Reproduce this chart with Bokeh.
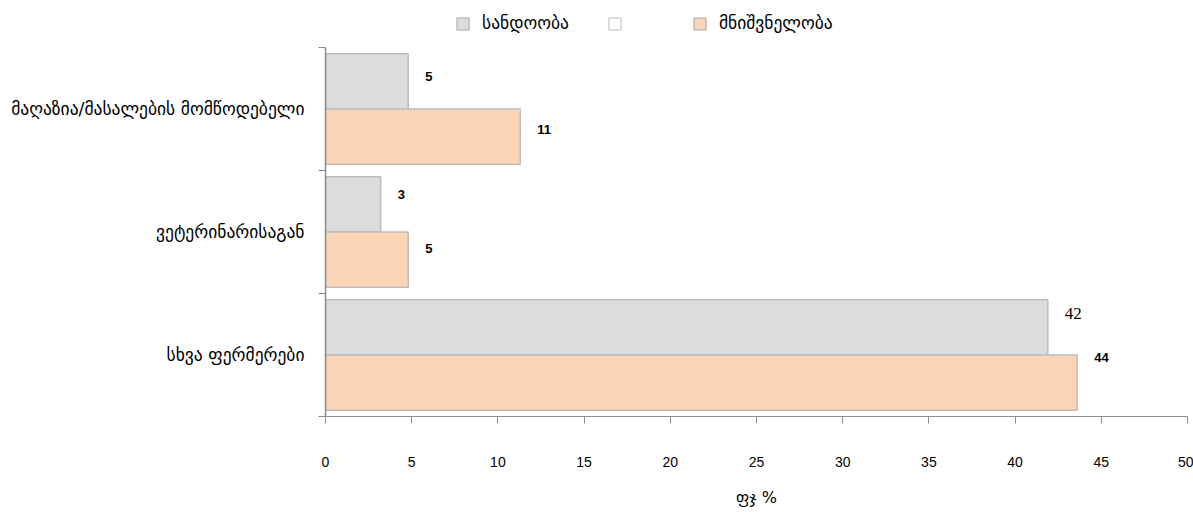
from bokeh.plotting import figure
from bokeh.models import (Range1d, LinearAxis, FixedTicker,
                          SingleIntervalTicker, ColumnDataSource, Legend, LegendItem)
from bokeh.transform import dodge
from bokeh.embed import file_html
from bokeh.resources import INLINE

# ---- data ----
categories = ["მაღაზია/მასალების მომწოდებელი", "ვეტერინარისაგან", "სხვა ფერმერები"]
series_names = ["სანდოობა", "\u00a0", "მნიშვნელობა"]
reliability = [4.8, 3.2, 41.9]     # სანდოობა (gray)
blank_series = [0, 0, 0]           # unnamed empty series (legend only)
importance = [11.3, 4.8, 43.6]     # მნიშვნელობა (orange)
x_ticks_max = 50

# ---- styles ----
GRAY_FILL = "#DCDCDC"
ORANGE_FILL = "#FBD5B5"
BAR_LINE = "#BDBDBD"
AXIS_COLOR = "#8C8C8C"
GEO_FONT = "DejaVu Sans"
NUM_FONT = "Liberation Sans"

n = len(categories)
# category slot centres, first category on top
centres = [n - 1 - i + 0.5 for i in range(n)]

# frame extends above the category area to host the legend
HEADROOM = 1.1139

p = figure(width=1193, height=510,
           y_range=Range1d(0, n * HEADROOM),
           x_range=Range1d(0, x_ticks_max),
           y_axis_location=None,
           output_backend="svg", toolbar_location=None,
           min_border_left=325, min_border_right=6,
           min_border_top=5, min_border_bottom=94)
p.outline_line_color = None
p.xgrid.grid_line_color = None
p.ygrid.grid_line_color = None

src = ColumnDataSource(dict(
    cat=categories,
    yc=centres,
    rel=reliability,
    blank=blank_series,
    imp=importance,
))

bar_h = 0.45
r_empty = p.hbar(y="yc", right="blank", left=0, height=bar_h, source=src,
                 fill_color="white", line_color=BAR_LINE, line_width=1)
r_gray = p.hbar(y=dodge("yc", bar_h / 2), right="rel", left=0, height=bar_h,
                source=src, fill_color=GRAY_FILL, line_color=BAR_LINE, line_width=1.5)
r_orange = p.hbar(y=dodge("yc", -bar_h / 2), right="imp", left=0, height=bar_h,
                  source=src, fill_color=ORANGE_FILL, line_color=BAR_LINE, line_width=1.5)

# value labels (per-label fonts / offsets mimic the reference)
gray_lbl = ColumnDataSource(dict(
    yc=centres, x=reliability, text=[str(round(v)) for v in reliability],
    font=[NUM_FONT, NUM_FONT, "Liberation Serif"],
    style=["bold", "bold", "normal"],
    size=["13px", "13px", "17px"],
    yoff=[-5, -10, -14],
))
orange_lbl = ColumnDataSource(dict(
    yc=centres, x=importance, text=[str(round(v)) for v in importance],
    font=[NUM_FONT, NUM_FONT, NUM_FONT],
    style=["bold", "bold", "bold"],
    size=["13px", "13px", "13px"],
    yoff=[-7, -11, -25],
))
for s, d in ((gray_lbl, bar_h / 2), (orange_lbl, -bar_h / 2)):
    p.text(x="x", y=dodge("yc", d), text="text", source=s,
           x_offset=17, y_offset="yoff", text_font="font", text_font_style="style",
           text_font_size="size", text_align="left", text_baseline="middle",
           text_color="black")

# x axis
xa = p.xaxis[0]
xa.ticker = SingleIntervalTicker(interval=5)
xa.axis_line_color = AXIS_COLOR
xa.major_tick_line_color = AXIS_COLOR
xa.major_tick_in = 0
xa.major_tick_out = 7
xa.minor_tick_line_color = None
xa.major_label_standoff = 33
xa.major_label_text_font = NUM_FONT
xa.major_label_text_font_size = "14px"
xa.major_label_text_color = "black"
xa.axis_label = "ფჯ %"
xa.axis_label_text_font = GEO_FONT
xa.axis_label_text_font_size = "16px"
xa.axis_label_text_font_style = "normal"
xa.axis_label_text_color = "black"
xa.axis_label_standoff = 18

# y boundary-tick axis (closest to frame), limited to the category area
bounds_ticks = list(range(n + 1))
ba = LinearAxis(ticker=FixedTicker(ticks=bounds_ticks), bounds=(0, n),
                major_label_overrides={t: "" for t in bounds_ticks})
ba.axis_line_color = AXIS_COLOR
ba.axis_line_width = 1.5
ba.major_tick_line_color = AXIS_COLOR
ba.major_tick_in = 0
ba.major_tick_out = 7
ba.minor_tick_line_color = None
ba.major_label_standoff = 0
p.add_layout(ba, "left")

# y category label axis
ca = LinearAxis(ticker=FixedTicker(ticks=centres),
                major_label_overrides={c: name for c, name in zip(centres, categories)})
ca.axis_line_color = None
ca.major_tick_line_color = None
ca.minor_tick_line_color = None
ca.major_label_standoff = 8
ca.major_label_text_font = GEO_FONT
ca.major_label_text_font_size = "17.5px"
ca.major_label_text_color = "black"
p.add_layout(ca, "left")

legend = Legend(items=[
    LegendItem(label=series_names[0], renderers=[r_gray]),
    LegendItem(label=series_names[1], renderers=[r_empty]),
    LegendItem(label=series_names[2], renderers=[r_orange]),
], orientation="horizontal", location=(130, 383),
    glyph_width=15, glyph_height=15, label_standoff=12, spacing=38,
    padding=0, margin=0, border_line_color=None, background_fill_alpha=0,
    label_text_font=GEO_FONT, label_text_font_size="17.5px", label_text_color="black")
p.add_layout(legend, "center")

open("out.html", "w").write(file_html(p, INLINE))
